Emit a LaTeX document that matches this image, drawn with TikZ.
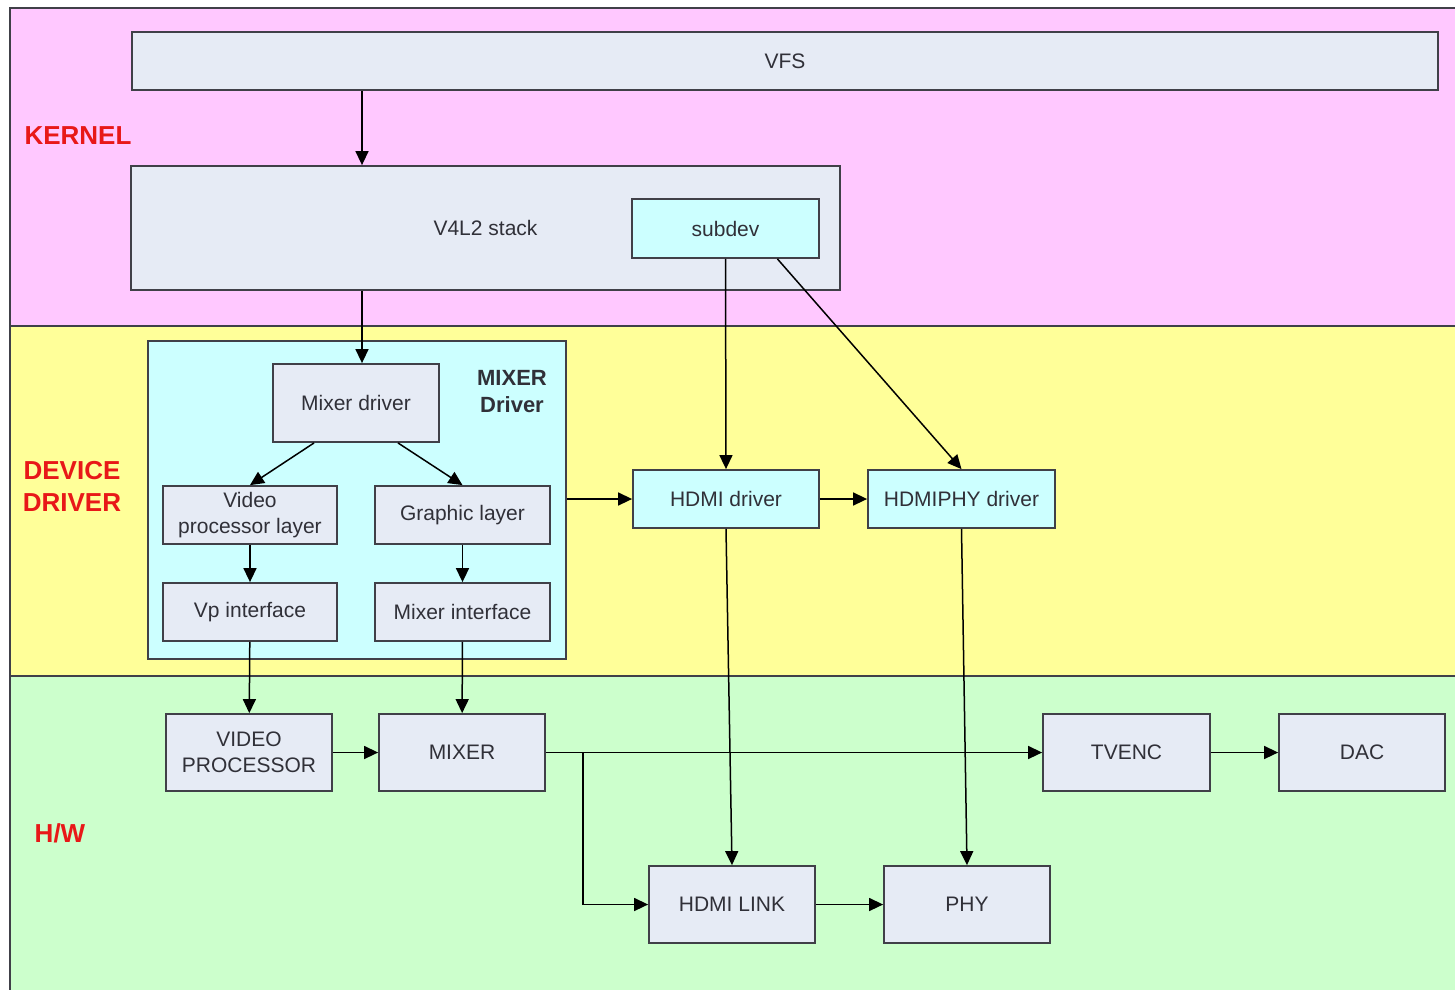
\documentclass[tikz,border=0pt]{standalone}
\usepackage{fontspec}
\setmainfont{Liberation Sans}
\usetikzlibrary{arrows.meta,calc}
\definecolor{kernelpink}{HTML}{FFC8FF}
\definecolor{drvyellow}{HTML}{FFFF99}
\definecolor{hwgreen}{HTML}{CCFFCC}
\definecolor{boxfill}{HTML}{E6EBF5}
\definecolor{cyanfill}{HTML}{CCFFFF}
\definecolor{edge}{HTML}{404048}
\definecolor{txt}{HTML}{303038}
\definecolor{laytxt}{HTML}{E81818}
\begin{document}
\begin{tikzpicture}[x=1pt,y=-1pt,
  blk/.style={draw=edge,line width=1.8pt,fill=boxfill,text=txt,inner sep=0pt,align=center,font=\fontsize{21}{26}\selectfont},
  drv/.style={blk,fill=cyanfill},
  lay/.style={text=laytxt,align=center,font=\fontsize{26}{32}\selectfont\bfseries},
  arr/.style={-{Triangle[length=14pt,width=13pt]},line width=1.5pt,draw=black}]
\clip (0,0) rectangle (1455,989);
\draw [edge,line width=1.8pt,fill=kernelpink] (10,8) rectangle (1475,326);
\draw [edge,line width=1.8pt,fill=drvyellow] (10,326) rectangle (1475,676);
\draw [edge,line width=1.8pt,fill=hwgreen] (10,676) rectangle (1475,1000);
\node [lay] (kernel) at (78,136) {KERNEL};
\node [lay] (devdrv) at (72,486) {DEVICE\\DRIVER};
\node [lay] (hw) at (60,833) {H/W};
\node [blk,minimum width=1306,minimum height=58] (vfs) at (785,61) {VFS};
\node [blk,minimum width=709,minimum height=124] (v4l2) at (485.5,228) {V4L2 stack};
\node [drv,minimum width=187,minimum height=59] (subdev) at (725.5,228.5) {subdev};
\node [drv,minimum width=418,minimum height=318] (mixcont) at (357,500) {};
\node [text=txt,align=center,font=\fontsize{22}{27}\selectfont\bfseries] (mixlbl) at (512,392) {MIXER\\Driver};
\node [blk,minimum width=166,minimum height=78] (mixdrv) at (356,403) {Mixer driver};
\node [blk,minimum width=174,minimum height=58] (vplayer) at (250,515) {Video\\processor layer};
\node [blk,minimum width=175,minimum height=58] (grlayer) at (462.5,515) {Graphic layer};
\node [blk,minimum width=174,minimum height=58] (vpif) at (250,612) {Vp interface};
\node [blk,minimum width=175,minimum height=58] (mixif) at (462.5,612) {Mixer interface};
\node [drv,minimum width=186,minimum height=58] (hdmidrv) at (726,499) {HDMI driver};
\node [drv,minimum width=187,minimum height=58] (phydrv) at (961.5,499) {HDMIPHY driver};
\node [blk,minimum width=166,minimum height=77] (vproc) at (249,752.5) {VIDEO\\PROCESSOR};
\node [blk,minimum width=166,minimum height=77] (mixer) at (462,752.5) {MIXER};
\node [blk,minimum width=167,minimum height=77] (tvenc) at (1126.5,752.5) {TVENC};
\node [blk,minimum width=166,minimum height=77] (dac) at (1362,752.5) {DAC};
\node [blk,minimum width=166,minimum height=77] (hdmilink) at (732,904.5) {HDMI LINK};
\node [blk,minimum width=166,minimum height=77] (phy) at (967,904.5) {PHY};
\coordinate (tap) at ($(mixdrv.north)+(6,0)$);
\coordinate (split) at ($(mixer.east)+(37,0)$);
\draw [arr] (vfs.south -| tap) -- (v4l2.north -| tap);
\draw [arr] (v4l2.south -| tap) -- (tap);
\draw [arr] (subdev.south) -- (hdmidrv.north);
\draw [arr] ($(subdev.south)!.55!(subdev.south east)$) -- (phydrv.north);
\draw [arr] ($(mixdrv.south)!.5!(mixdrv.south west)$) -- (vplayer.north);
\draw [arr] ($(mixdrv.south)!.5!(mixdrv.south east)$) -- (grlayer.north);
\draw [arr] (vplayer) -- (vpif);
\draw [arr] (grlayer) -- (mixif);
\draw [arr] (mixcont.east |- hdmidrv.west) -- (hdmidrv.west);
\draw [arr] (hdmidrv) -- (phydrv);
\draw [arr] (vpif) -- (vproc);
\draw [arr] (mixif) -- (mixer);
\draw [arr] (hdmidrv.south) -- (hdmilink.north);
\draw [arr] (phydrv.south) -- (phy.north);
\draw [arr] (vproc) -- (mixer);
\draw [arr] (mixer) -- (tvenc);
\draw [arr] (tvenc) -- (dac);
\draw [arr] (split) |- (hdmilink.west);
\draw [arr] (hdmilink) -- (phy);
\end{tikzpicture}
\end{document}
